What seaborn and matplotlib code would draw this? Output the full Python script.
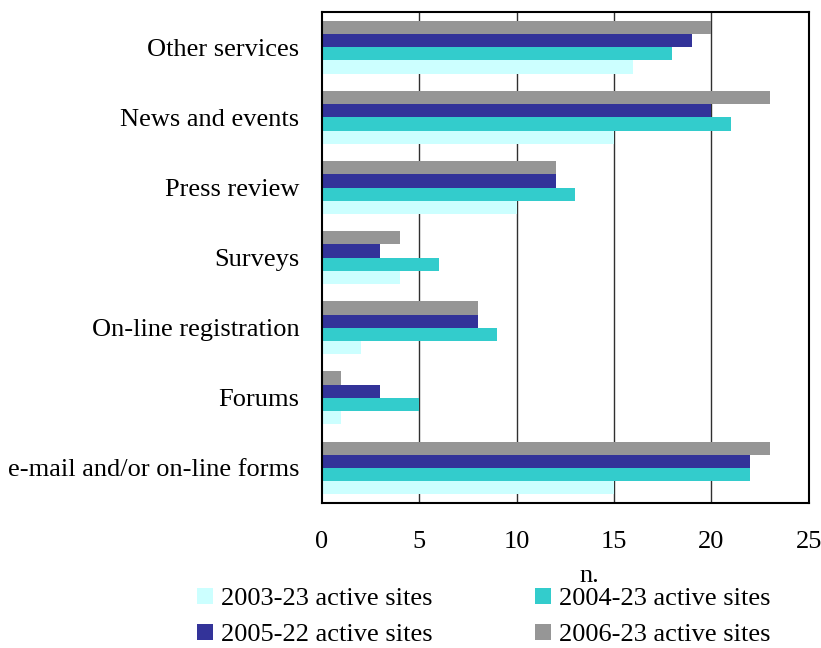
import matplotlib
matplotlib.use("Agg")
import matplotlib.pyplot as plt
import seaborn as sns
import pandas as pd
from matplotlib.patches import Patch

categories = ["Other services", "News and events", "Press review", "Surveys",
              "On-line registration", "Forums", "e-mail and/or on-line forms"]
series = ["2003-23 active sites", "2004-23 active sites",
          "2005-22 active sites", "2006-23 active sites"]
v2003 = [16, 15, 10, 4, 2, 1, 15]
v2004 = [18, 21, 13, 6, 9, 5, 22]
v2005 = [19, 20, 12, 3, 8, 3, 22]
v2006 = [20, 23, 12, 4, 8, 1, 23]
colors = ["#CCFFFF", "#33CCCC", "#333399", "#969696"]
xticks = [0, 5, 10, 15, 20, 25]

rows = []
for s, vals in zip(series, [v2003, v2004, v2005, v2006]):
    for c, v in zip(categories, vals):
        rows.append({"category": c, "series": s, "n": v})
df = pd.DataFrame(rows)

sns.set_theme(style="white")
plt.rcParams["font.family"] = ["Liberation Serif", "DejaVu Serif"]
FS = 19

fig = plt.figure(figsize=(8.21, 6.48), dpi=100)
ax = fig.add_axes([0.392, 0.224, 0.593, 0.757])

# latest series on top of each group
hue_order = series[::-1]
pal = dict(zip(series, colors))
sns.barplot(data=df, y="category", x="n", hue="series", order=categories,
            hue_order=hue_order, palette=pal, orient="h", width=0.75,
            saturation=1, linewidth=0, legend=False, ax=ax)

ax.set_xlim(0, 25)
ax.set_ylim(6.5, -0.5)
ax.set_xticks(xticks)
ax.set_xticklabels([str(t) for t in xticks])
for t in xticks[1:-1]:
    ax.axvline(t, color="#303030", lw=1, zorder=0)
ax.tick_params(axis="x", length=0, pad=20, labelsize=FS, colors="black")
ax.tick_params(axis="y", length=0, pad=16, labelsize=FS, colors="black")
ax.set_ylabel("")
ax.set_xlabel("n.", fontsize=FS, color="black")
ax.xaxis.set_label_coords(0.55, -0.126)
for sp in ax.spines.values():
    sp.set_color("black")
    sp.set_linewidth(1.5)
    sp.set_visible(True)

handles = [Patch(facecolor=pal[s], edgecolor="none", label=s) for s in series]
order = [0, 2, 1, 3]
leg = fig.legend([handles[i] for i in order], [series[i] for i in order],
                 ncol=2, loc="upper left", bbox_to_anchor=(0.240, 0.093),
                 frameon=False, fontsize=FS, handlelength=0.6,
                 handleheight=0.6, handletextpad=0.3, columnspacing=3.9,
                 labelspacing=0.5, borderpad=0, borderaxespad=0)
for txt in leg.get_texts():
    txt.set_color("black")

fig.savefig("out.png", dpi=100, facecolor="white")
